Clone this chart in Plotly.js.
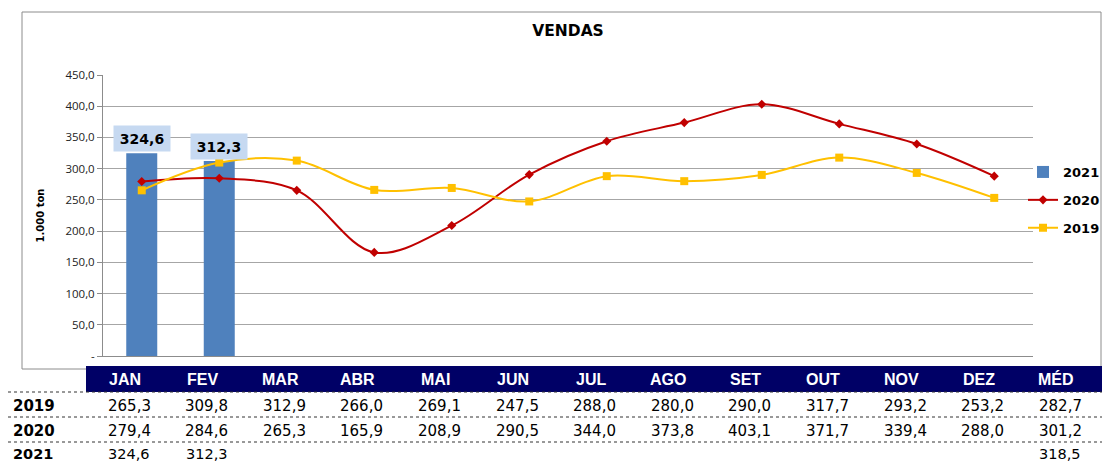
<!DOCTYPE html>
<html><head><meta charset="utf-8">
<script src="https://cdn.plot.ly/plotly-3.0.1.min.js"></script>
<style>html,body{margin:0;padding:0;background:#fff}</style>
</head><body><div id="chart" style="width:1102px;height:463px"></div>
<script>
const months = ['JAN','FEV','MAR','ABR','MAI','JUN','JUL','AGO','SET','OUT','NOV','DEZ'];
const avgLabel = 'MÉD';
const years = ['2019','2020','2021'];
const v2019 = [265.3,309.8,312.9,266.0,269.1,247.5,288.0,280.0,290.0,317.7,293.2,253.2];
const v2020 = [279.4,284.6,265.3,165.9,208.9,290.5,344.0,373.8,403.1,371.7,339.4,288.0];
const v2021 = [324.6,312.3];
const avg2019 = 282.7, avg2020 = 301.2, avg2021 = 318.5;
const yTickVals = [0,50,100,150,200,250,300,350,400,450];
const yTickText = ['-','50,0','100,0','150,0','200,0','250,0','300,0','350,0','400,0','450,0'];

const fmt = v => v.toFixed(1).replace('.', ',');

// pixel helpers for layout
const W = 1102, H = 463, L = 103, R = 1033, T = 75, B = 356;
const px = x => (x - L) / (R - L);
const py = y => (B - y) / (B - T);
// table column geometry (pixels)
const col0 = 125, colStep = 77.6;
const colX = i => px(col0 + colStep * i);

const traces = [
  {type:'bar', name:'2021', x: months.slice(0, v2021.length), y: v2021,
   marker:{color:'#4f81bd'}, width:0.4, legendgroup:'a'},
  {type:'scatter', mode:'lines+markers', name:'2020', x: months, y: v2020,
   line:{color:'#c00000', width:2, shape:'spline', smoothing:1},
   marker:{symbol:'diamond', size:7, color:'#c00000'}, legendgroup:'b'},
  {type:'scatter', mode:'lines+markers', name:'2019', x: months, y: v2019,
   line:{color:'#ffc000', width:2, shape:'spline', smoothing:1},
   marker:{symbol:'square', size:8, color:'#ffc000'}, legendgroup:'c'}
];

const annotations = [];
// bar data labels
v2021.forEach((v, i) => annotations.push({
  x: months[i], xref:'x', y: v, yref:'y', yanchor:'bottom', yshift:1,
  text: fmt(v), showarrow:false, bgcolor:'#c6d9f1', borderpad:4, width:48, height:17,
  font:{family:'DejaVu Sans', size:14, color:'#000', weight:'bold'}
}));

// table
const tableCols = months.concat([avgLabel]);
const headerY = py(379);
const rowY = [py(406), py(431), py(454)];
const rows = [v2019.concat([avg2019]), v2020.concat([avg2020]), v2021.concat(new Array(12 - v2021.length).fill(null)).concat([avg2021])];
tableCols.forEach((c, i) => annotations.push({
  x: colX(i), xref:'paper', y: headerY, yref:'paper', text: c, showarrow:false,
  xanchor:'center', yanchor:'middle',
  font:{family:'Liberation Sans', size:16, color:'#fff', weight:'bold'}
}));
rows.forEach((row, r) => {
  annotations.push({
    x: px(11), xref:'paper', y: rowY[r], yref:'paper', text: years[r], showarrow:false,
    xanchor:'left', yanchor:'middle',
    font:{family:'DejaVu Sans', size:r === 2 ? 14.5 : 15, color:'#000', weight:'bold'}
  });
  row.forEach((v, i) => {
    if (v === null) return;
    annotations.push({
      x: colX(i), xref:'paper', y: rowY[r], yref:'paper', text: fmt(v), showarrow:false,
      xanchor:'center', yanchor:'middle', xshift:4,
      font:{family:'DejaVu Sans', size:r === 2 ? 14.5 : 15, color:'#000'}
    });
  });
});

const shapes = [
  // outer chart frame
  {type:'rect', xref:'paper', yref:'paper', x0:px(22), x1:px(1101), y0:py(369), y1:py(12),
   line:{color:'#8c8c8c', width:1}, layer:'below'},
  // header band
  {type:'rect', xref:'paper', yref:'paper', x0:px(86), x1:px(1102), y0:py(392), y1:py(366),
   fillcolor:'#000066', line:{width:0}},
  // dotted separators
  ...[392, 417, 442].map(y => ({type:'line', xref:'paper', yref:'paper', x0:px(8), x1:px(1102),
   y0:py(y), y1:py(y), line:{color:'#333', width:1, dash:'dot'}}))
];

const layout = {
  width: W, height: H,
  margin:{l:L, r:W - R, t:T, b:H - B, pad:0, autoexpand:false},
  paper_bgcolor:'#fff', plot_bgcolor:'#fff',
  title:{text:'<b>VENDAS</b>', x:0.5, xref:'paper', y:1 - 31 / H, yref:'container', yanchor:'middle',
    font:{family:'DejaVu Sans', size:15.5, color:'#000'}},
  showlegend:true,
  legend:{x:px(1023), xanchor:'left', y:py(157), yanchor:'top', traceorder:'grouped', tracegroupgap:8,
    font:{family:'DejaVu Sans', size:13, color:'#000', weight:'bold'}, bgcolor:'rgba(0,0,0,0)', itemwidth:30},
  xaxis:{type:'category', categoryorder:'array', categoryarray: months, range:[-0.5, 11.5],
    showticklabels:false, showgrid:false, showline:true, linecolor:'#8c8c8c', linewidth:1, ticks:'', zeroline:false},
  yaxis:{range:[0, 450], tickvals: yTickVals, ticktext: yTickText, showgrid:true, gridcolor:'#a6a6a6', gridwidth:1,
    showline:true, linecolor:'#8c8c8c', linewidth:1, ticks:'outside', ticklen:5, tickcolor:'#8c8c8c', zeroline:false,
    tickfont:{family:'Open Sans', size:11.5, color:'#222'},
    title:{text:'<b>1.000 ton</b>', standoff:18, font:{family:'DejaVu Sans', size:10, color:'#000'}}},
  bargap:0.6,
  annotations, shapes
};

Plotly.newPlot('chart', traces, layout, {staticPlot:true, displayModeBar:false});
</script></body></html>
